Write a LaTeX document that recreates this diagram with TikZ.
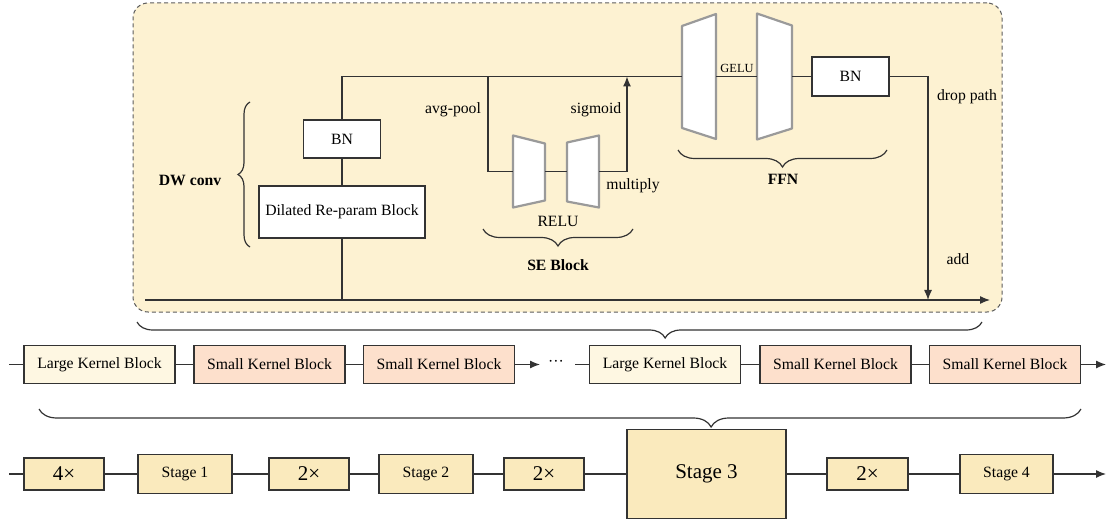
\documentclass[tikz,border=0pt]{standalone}
\usepackage{fontspec}
\setmainfont{Liberation Serif}
\newfontfamily\timesfam{Liberation Serif}
\usetikzlibrary{arrows.meta,decorations.pathreplacing,calc}
\definecolor{panelfill}{HTML}{FDF2D2}
\definecolor{stagefill}{HTML}{FAEABD}
\definecolor{largefill}{HTML}{FEF7E2}
\definecolor{smallfill}{HTML}{FDE0CC}
\definecolor{linecol}{HTML}{333333}
\definecolor{trapcol}{HTML}{9A9A9A}
\tikzset{
  conn/.style={draw=linecol, line width=1.2pt},
  arrowed/.style={-{Latex[length=10pt,width=8pt]}},
  box/.style={draw=linecol, line width=1.2pt, fill=white, inner sep=0pt, align=center},
  stagebox/.style={box, fill=stagefill},
  largebox/.style={box, fill=largefill, minimum width=151, minimum height=38},
  smallbox/.style={box, fill=smallfill, minimum width=151, minimum height=38},
  trapholder/.style={inner sep=0pt, outer sep=0pt},
  trapline/.style={draw=trapcol, line width=2.2pt, fill=white, line join=round},
  panel/.style={draw=linecol!80, dashed, dash pattern=on 4pt off 3pt, line width=1pt, fill=panelfill, rounded corners=15pt},
  bracestyle/.style={draw=linecol, line width=1.2pt, decorate},
  lab/.style={inner sep=0pt},
  boldlab/.style={inner sep=0pt, font=\timesfam\fontsize{15.7}{18}\selectfont\bfseries},
  bigfont/.style={font=\timesfam\fontsize{21}{24}\selectfont},
}
\begin{document}
\begin{tikzpicture}[x=1pt,y=-1pt, font=\timesfam\fontsize{15.7}{18}\selectfont]
\useasboundingbox (0,0) rectangle (1108,521);

% panel
\node[panel, minimum width=869, minimum height=309] (panel) at (567.5,157.5) {};

% DW conv part
\node[box, minimum width=77, minimum height=38] (bn1) at (342,139) {BN};
\node[box, minimum width=166, minimum height=52] (dil) at (342,212) {Dilated Re-param Block};

% trapezoids
\node[trapholder, minimum width=32, minimum height=72] (se1) at (529,171.5) {};
\node[trapholder, minimum width=32, minimum height=72] (se2) at (583,171.5) {};
\node[trapholder, minimum width=34, minimum height=125] (ffn1) at (699,76.5) {};
\node[trapholder, minimum width=35, minimum height=126] (ffn2) at (774.5,76.5) {};
\draw[trapline] (se1.north west) -- ($(se1.north east)+(0,8)$) -- ($(se1.south east)+(0,-7)$) -- (se1.south west) -- cycle;
\draw[trapline] ($(se2.north west)+(0,7)$) -- (se2.north east) -- (se2.south east) -- ($(se2.south west)+(0,-6)$) -- cycle;
\draw[trapline] ($(ffn1.north west)+(0,12)$) -- (ffn1.north east) -- (ffn1.south east) -- ($(ffn1.south west)+(0,-11)$) -- cycle;
\draw[trapline] (ffn2.north west) -- ($(ffn2.north east)+(0,12)$) -- ($(ffn2.south east)+(0,-11)$) -- (ffn2.south west) -- cycle;

\node[box, minimum width=77, minimum height=39] (bn2) at (850.5,76.5) {BN};

% coordinates
\coordinate (tl) at (342,76.5);
\coordinate (tap) at (488,76.5);
\coordinate (tapdown) at (488,171.5);
\coordinate (merge) at (627,76.5);
\coordinate (mergedown) at (627,171.5);
\coordinate (dpcorner) at (928,76.5);
\coordinate (addpt) at (928,300);
\coordinate (resstart) at (145,300);
\coordinate (resend) at (990,300);
\coordinate (resjoin) at (342,300);

% connectors in panel
\draw[conn] (dil.north) -- (bn1.south);
\draw[conn] (bn1.north) -- (tl) -- (ffn1.west);
\draw[conn] (tap) -- (tapdown) -- (se1.west);
\draw[conn] (se1.east) -- (se2.west);
\draw[conn, arrowed] (se2.east) -- (mergedown) -- (merge);
\draw[conn] (ffn1.east) -- (ffn2.west);
\draw[conn] (ffn2.east) -- (bn2.west);
\draw[conn, arrowed] (bn2.east) -- (dpcorner) -- (addpt);
\draw[conn, arrowed] (resstart) -- (resend);
\draw[conn] (dil.south) -- (resjoin);

% labels in panel
\node[lab] (avgpool) at (453,110) {avg-pool};
\node[lab] (sigmoid) at (596,110) {sigmoid};
\node[lab] (multiply) at (633,186) {multiply};
\node[lab] (relu) at (558,221) {RELU};
\node[boldlab] (seblock) at (558,265) {SE Block};
\node[boldlab] (ffnlab) at (783,179) {FFN};
\node[lab, font=\timesfam\fontsize{12.4}{14}\selectfont] (gelu) at (737,68) {GELU};
\node[lab] (droppath) at (967,97) {drop path};
\node[lab] (add) at (958,259) {add};
\node[boldlab] (dwconv) at (190,180) {DW conv};

% braces
\draw[bracestyle, decoration={brace, amplitude=12pt}] (250,247) -- (250,102);
\draw[bracestyle, decoration={brace, amplitude=17pt}] (633,229) -- (483,229);
\draw[bracestyle, decoration={brace, amplitude=17pt}] (887,150) -- (678,150);
\draw[bracestyle, decoration={brace, amplitude=16pt, aspect=0.375}] (982,322) -- (137,322);
\draw[bracestyle, decoration={brace, amplitude=18pt, aspect=0.355}] (1081,409) -- (39,409);

% row 1
\node[largebox] (lkb1) at (99.5,364.5) {Large Kernel Block};
\node[smallbox] (skb1) at (269.5,364.5) {Small Kernel Block};
\node[smallbox] (skb2) at (439,364.5) {Small Kernel Block};
\node[lab] (dots) at (556,363) {···};
\node[largebox] (lkb2) at (665,364.5) {Large Kernel Block};
\node[smallbox] (skb3) at (835.5,364.5) {Small Kernel Block};
\node[smallbox] (skb4) at (1005,364.5) {Small Kernel Block};
\coordinate (r1start) at (9,364.5);
\coordinate (r1mid) at (540,364.5);
\coordinate (r1resume) at (575,364.5);
\coordinate (r1end) at (1106,364.5);
\draw[conn] (r1start) -- (lkb1.west);
\draw[conn] (lkb1.east) -- (skb1.west);
\draw[conn] (skb1.east) -- (skb2.west);
\draw[conn, arrowed] (skb2.east) -- (r1mid);
\draw[conn] (r1resume) -- (lkb2.west);
\draw[conn] (lkb2.east) -- (skb3.west);
\draw[conn] (skb3.east) -- (skb4.west);
\draw[conn, arrowed] (skb4.east) -- (r1end);

% row 2
\node[stagebox, bigfont, minimum width=80, minimum height=32] (ds1) at (64,474) {4×};
\node[stagebox, minimum width=94, minimum height=39] (st1) at (185,474) {Stage 1};
\node[stagebox, bigfont, minimum width=80, minimum height=32] (ds2) at (309,474) {2×};
\node[stagebox, minimum width=94, minimum height=39] (st2) at (426,474) {Stage 2};
\node[stagebox, bigfont, minimum width=80, minimum height=32] (ds3) at (544,474) {2×};
\node[stagebox, bigfont, minimum width=159, minimum height=89] (st3) at (706.5,474) {Stage 3};
\node[stagebox, bigfont, minimum width=81, minimum height=32] (ds4) at (867.5,474) {2×};
\node[stagebox, minimum width=93, minimum height=39] (st4) at (1006.5,474) {Stage 4};
\coordinate (r2start) at (9,474);
\coordinate (r2end) at (1106,474);
\draw[conn] (r2start) -- (ds1.west);
\draw[conn] (ds1.east) -- (st1.west);
\draw[conn] (st1.east) -- (ds2.west);
\draw[conn] (ds2.east) -- (st2.west);
\draw[conn] (st2.east) -- (ds3.west);
\draw[conn] (ds3.east) -- (st3.west);
\draw[conn] (st3.east) -- (ds4.west);
\draw[conn] (ds4.east) -- (st4.west);
\draw[conn, arrowed] (st4.east) -- (r2end);
\end{tikzpicture}
\end{document}
